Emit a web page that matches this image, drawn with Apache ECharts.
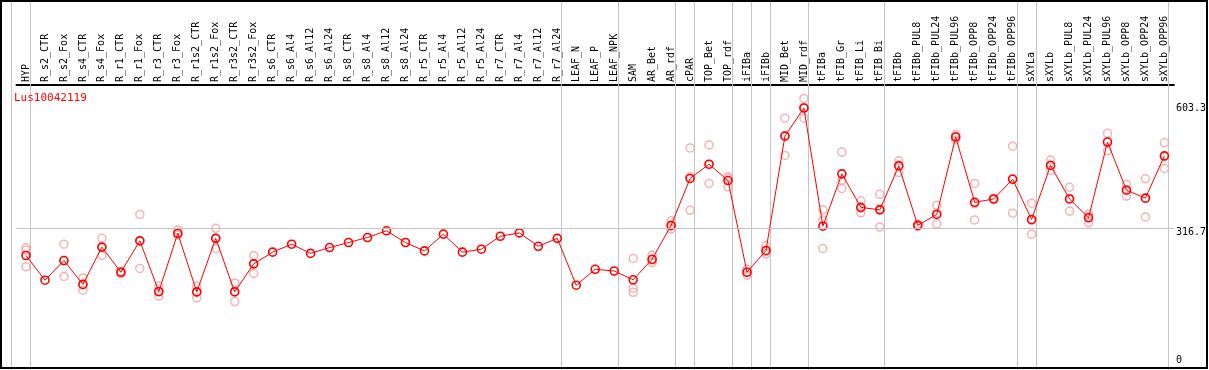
<!DOCTYPE html>
<html>
<head>
<meta charset="utf-8">
<script src="https://cdn.jsdelivr.net/npm/echarts@6/dist/echarts.min.js"></script>
<style>
html,body{margin:0;padding:0;background:#fff;}
#chart{width:1209px;height:370px;}
</style>
</head>
<body>
<div id="chart"></div>
<script>
const categories = ["HYP","R_s2_CTR","R_s2_Fox","R_s4_CTR","R_s4_Fox","R_r1_CTR","R_r1_Fox","R_r3_CTR","R_r3_Fox","R_r1s2_CTR","R_r1s2_Fox","R_r3s2_CTR","R_r3s2_Fox","R_s6_CTR","R_s6_Al4","R_s6_Al12","R_s6_Al24","R_s8_CTR","R_s8_Al4","R_s8_Al12","R_s8_Al24","R_r5_CTR","R_r5_Al4","R_r5_Al12","R_r5_Al24","R_r7_CTR","R_r7_Al4","R_r7_Al12","R_r7_Al24","LEAF_N","LEAF_P","LEAF_NPK","SAM","AR_Bet","AR_rdf","cPAR","TOP_Bet","TOP_rdf","iFIBa","iFIBb","MID_Bet","MID_rdf","tFIBa","tFIB_Gr","tFIB_Li","tFIB_Bi","tFIBb","tFIBb_PUL8","tFIBb_PUL24","tFIBb_PUL96","tFIBb_OPP8","tFIBb_OPP24","tFIBb_OPP96","sXYLa","sXYLb","sXYLb_PUL8","sXYLb_PUL24","sXYLb_PUL96","sXYLb_OPP8","sXYLb_OPP24","sXYLb_OPP96"];

const meanValues = [251,192,239,182,271,211,286,165,304,164,292,164,231,259,278,256,270,282,294,310,282,262,302,259,266,297,305,273,292,180,218,214,193,242,323,435,469,430,211,263,536,603.3,321,446,366,360,465,323,349,534,378,386,433,337,466,386,341,522,407,388,489];

const replicateValues = [
  [270,264,224],[],[278,201,239],[197,168,181],[292,251,270],[213,207,212],[349,220,287],[178,154,164],[312,300,300],[178,150,163],[316,268,292],[185,141,166],[251,208,232],
  [],[],[],[],[],[],[],[],[],[],[],[],[],[],[],[],
  [],[],[],
  [244,173,163],[252,234,240],[334,314,321],[508,359,439],[515,423,468],[439,415,435],[218,204,211],[274,255,261],[579,490,538],[626,579,605],
  [360,336,268],[498,411,431],[381,353,364],[397,319,363],
  [477,449,468],[326,320,323],[371,326,352],[540,527,535],[423,336,375],[388,384,386],[512,352,435],
  [376,302,335],[479,454,467],[414,357,387],[350,329,345],[543,501,522],[421,393,408],[434,343,388],[520,459,487]
];

const groupEnds = [-1,0,28,31,34,35,37,38,39,41,45,52,53,60];
const yTickValues = [0,316.7,603.3];
const referenceLine = 316.7;
const chartTitle = "Lus10042119";

const replicatePoints = [];
replicateValues.forEach((arr, i) => arr.forEach(v => replicatePoints.push([i, v])));

const FONT = "DejaVu Sans Mono";
const chart = echarts.init(document.getElementById('chart'), null, {renderer:'canvas'});
chart.setOption({
  animation: false,
  backgroundColor: '#fff',
  title: {
    text: chartTitle, left: 9, top: 88,
    textStyle: {color:'#ff0000', fontFamily: FONT, fontSize: 11, fontWeight:'normal'}
  },
  grid: {left: 16.5, right: 32.9, top: 85, bottom: 2, containLabel: false},
  xAxis: {
    type: 'category', data: categories, position: 'top', boundaryGap: true,
    axisLine: {show: true, onZero: false, lineStyle: {color:'#000', width: 2}},
    axisTick: {show: false},
    splitLine: {show: false},
    axisLabel: {rotate: -90, margin: 3, interval: 0, color:'#000', fontFamily: FONT, fontSize: 10}
  },
  yAxis: {
    type: 'value', position: 'right', min: -17.7, max: 658.2,
    axisLine: {show: false}, axisTick: {show: false}, splitLine: {show: false},
    axisLabel: {
      customValues: yTickValues, margin: 2, color:'#000', fontFamily: FONT, fontSize: 10,
      formatter: v => (Math.abs(v - referenceLine) < 0.01 ? '{d|' + v + '}' : String(v)),
      rich: {d: {padding: [8,0,0,0], color:'#000', fontFamily: FONT, fontSize: 10}}
    }
  },
  graphic: [{
    type: 'rect', shape: {x: 1, y: 1, width: 1206, height: 367},
    style: {fill: 'none', stroke: '#000', lineWidth: 2}, z: 100, silent: true
  }],
  series: [
    {
      type: 'custom', name: 'sep', data: groupEnds.map(v => [v]), clip: false, silent: true, z: 1,
      encode: {x: 0},
      renderItem: function (params, api) {
        const idx = api.value(0);
        const p0 = api.coord([0, 0]);
        const band = api.size([1, 0])[0];
        const x = Math.round(p0[0] + idx * band + 4) + 0.5;
        return {type: 'line', shape: {x1: x, y1: 0, x2: x, y2: api.getHeight()},
                style: {stroke: '#c4c4c4', lineWidth: 1}};
      }
    },
    {
      type: 'scatter', name: 'replicates', data: replicatePoints, z: 3,
      symbol: 'circle', symbolSize: 8,
      itemStyle: {color: 'rgba(255,255,255,0)', borderColor: '#f0a0a0', borderWidth: 1.5}
    },
    {
      type: 'line', name: 'mean', data: meanValues, z: 4,
      symbol: 'circle', symbolSize: 8, showAllSymbol: true,
      lineStyle: {color: '#ff0000', width: 1},
      itemStyle: {color: 'rgba(255,255,255,0)', borderColor: '#ff0000', borderWidth: 1.6},
      markLine: {
        silent: true, symbol: 'none', label: {show: false},
        lineStyle: {color: '#c4c4c4', type: 'solid', width: 1},
        data: [{yAxis: referenceLine}]
      }
    }
  ]
});
</script>
</body>
</html>
